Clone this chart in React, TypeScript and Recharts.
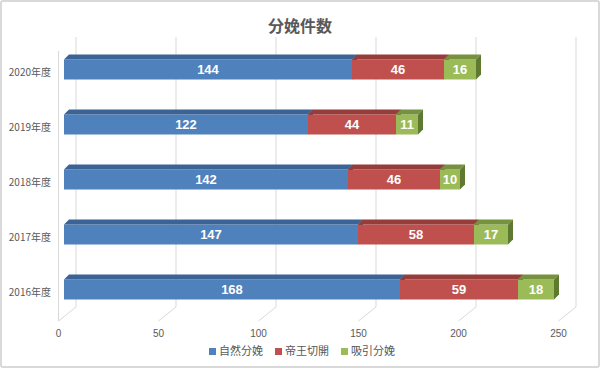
import React from "react";
import { BarChart, Bar, XAxis, YAxis, CartesianGrid, LabelList } from "recharts";

const categories = ["2020年度", "2019年度", "2018年度", "2017年度", "2016年度"];
const natural = [144, 122, 142, 147, 168];
const cesarean = [46, 44, 46, 58, 59];
const vacuum = [16, 11, 10, 17, 18];
const xTicks = [0, 50, 100, 150, 200, 250];

const seriesNames = ["自然分娩", "帝王切開", "吸引分娩"];
const colors = ["#4F81BD", "#C0504D", "#9BBB59"];
const topColors = ["#3C6396", "#963D3A", "#77923F"];
const sideColors = ["#2F4F7A", "#7A2F2D", "#5F7A30"];

const data = categories.map((c, i) => ({
  name: c,
  natural: natural[i],
  cesarean: cesarean[i],
  vacuum: vacuum[i],
}));

const D = 5;
const FONT = "'Liberation Sans', Arial, sans-serif";
const CJK = "'Noto Sans CJK JP', sans-serif";

const makeShape = (idx: number) => (props: any) => {
  const { x, y, width, height } = props;
  if (width == null || height == null) return <g />;
  return (
    <g>
      <rect x={x} y={y} width={width} height={height} fill={colors[idx]} />
      <polygon
        points={`${x},${y} ${x + D},${y - D} ${x + width + D},${y - D} ${x + width},${y}`}
        fill={topColors[idx]}
      />
      <polygon
        points={`${x + width},${y} ${x + width + D},${y - D} ${x + width + D},${y + height - D} ${x + width},${y + height}`}
        fill={sideColors[idx]}
      />
    </g>
  );
};

const GridLine = (props: any) => {
  const { x1, y1, y2, index } = props;
  const back = x1 + 12;
  const front = x1 - 5.5;
  const topBack = y1 - 4.5;
  const botBack = y2 - 9.5;
  const botFront = y2 + 4.5;
  return (
    <g stroke="#D9D9D9" strokeWidth={1} fill="none">
      <line x1={back} y1={topBack} x2={back} y2={botBack} />
      <line x1={back} y1={botBack} x2={front} y2={botFront} />
      {index === 0 && <line x1={front} y1={topBack + 14} x2={front} y2={botFront} />}
    </g>
  );
};

const XTick = (props: any) => {
  const { x, y, payload } = props;
  return (
    <text x={x - 5.5} y={y + 12} textAnchor="middle" fontSize={10} fill="#595959" fontFamily={FONT}>
      {payload.value}
    </text>
  );
};

const YTick = (props: any) => {
  const { x, y, payload } = props;
  return (
    <text x={x - 5} y={y + 7} textAnchor="end" fontSize={10} fill="#595959" fontFamily={CJK}>
      {payload.value}
    </text>
  );
};

export default function App() {
  return (
    <div style={{ position: "fixed", left: 0, top: 0, width: 600, height: 368, background: "#fff" }}>
      <div
        style={{
          position: "absolute",
          left: 0,
          top: 0,
          width: 596,
          height: 364,
          border: "2px solid #D9D9D9",
          borderRadius: 3,
          boxSizing: "content-box",
        }}
      />
      <div
        style={{
          position: "absolute",
          left: 0,
          top: 13,
          width: 600,
          textAlign: "center",
          fontFamily: CJK,
          fontWeight: 700,
          fontSize: 16,
          color: "#595959",
        }}
      >
        分娩件数
      </div>
      <BarChart
        width={600}
        height={368}
        data={data}
        layout="vertical"
        margin={{ top: 41.5, right: 36, bottom: 21.5, left: 8 }}
        barSize={20}
        style={{ position: "absolute", left: 0, top: 0 }}
      >
        <CartesianGrid horizontal={false} vertical={GridLine as any} />
        <XAxis
          type="number"
          domain={[0, 250]}
          ticks={xTicks}
          axisLine={false}
          tickLine={false}
          tick={XTick}
          height={30}
          interval={0}
        />
        <YAxis type="category" dataKey="name" width={56} axisLine={false} tickLine={false} tick={YTick} />
        <Bar dataKey="natural" stackId="a" name={seriesNames[0]} fill={colors[0]} shape={makeShape(0)} isAnimationActive={false}>
          <LabelList dataKey="natural" position="center" fill="#fff" fontSize={13} fontWeight={700} fontFamily={FONT} />
        </Bar>
        <Bar dataKey="cesarean" stackId="a" name={seriesNames[1]} fill={colors[1]} shape={makeShape(1)} isAnimationActive={false}>
          <LabelList dataKey="cesarean" position="center" fill="#fff" fontSize={13} fontWeight={700} fontFamily={FONT} />
        </Bar>
        <Bar dataKey="vacuum" stackId="a" name={seriesNames[2]} fill={colors[2]} shape={makeShape(2)} isAnimationActive={false}>
          <LabelList dataKey="vacuum" position="center" fill="#fff" fontSize={13} fontWeight={700} fontFamily={FONT} />
        </Bar>
      </BarChart>
      <div
        style={{
          position: "absolute",
          left: 0,
          top: 342,
          width: 600,
          display: "flex",
          justifyContent: "center",
          gap: 12,
          fontFamily: CJK,
          fontSize: 11,
          color: "#595959",
          paddingLeft: 4,
          boxSizing: "border-box",
          lineHeight: "16px",
        }}
      >
        {seriesNames.map((n, i) => (
          <span key={n} style={{ display: "flex", alignItems: "center" }}>
            <span style={{ display: "inline-block", width: 7, height: 7, background: colors[i], marginRight: 3, marginTop: 2 }} />
            {n}
          </span>
        ))}
      </div>
    </div>
  );
}
